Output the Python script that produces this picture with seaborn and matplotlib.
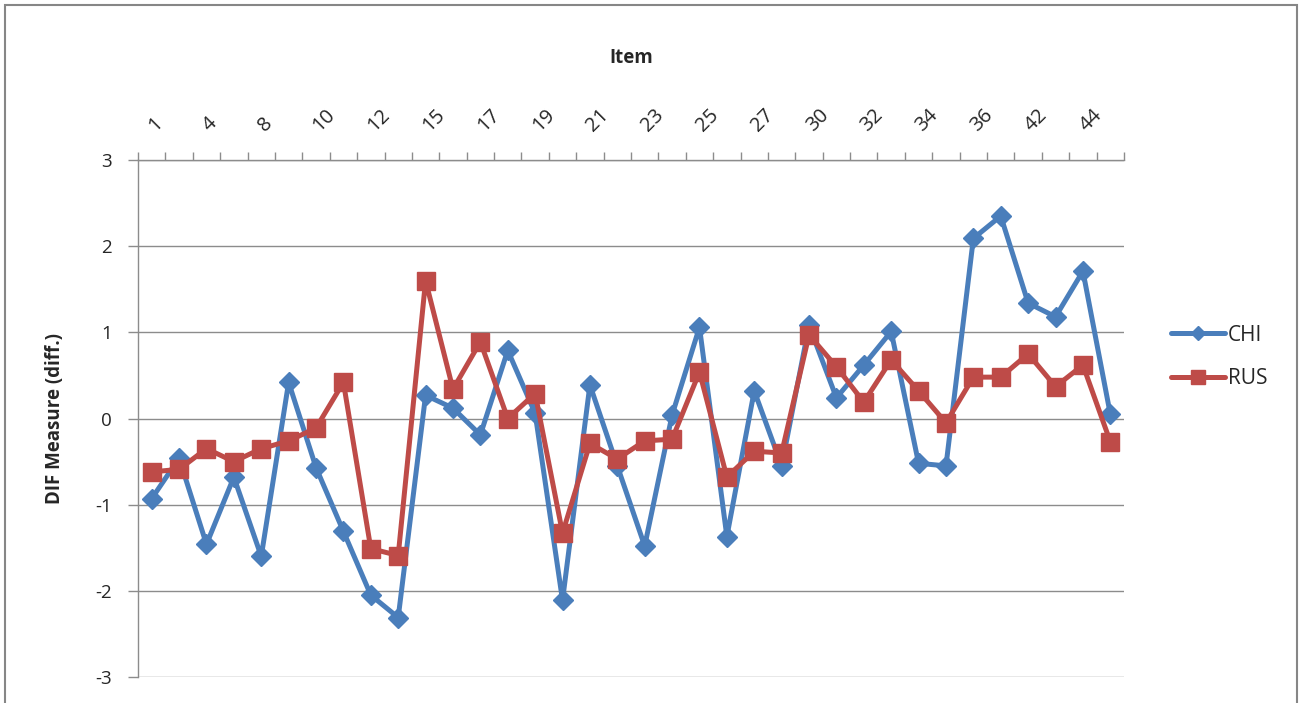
import matplotlib
matplotlib.use("Agg")
import matplotlib.pyplot as plt
import seaborn as sns
import pandas as pd
import numpy as np
from matplotlib.patches import Rectangle
from matplotlib.ticker import FixedLocator, NullFormatter

# ---- data ----
items = ["1", "2", "4", "5", "8", "9", "10", "11", "12", "13", "15", "16",
         "17", "18", "19", "20", "21", "22", "23", "24", "25", "26", "27", "28",
         "30", "31", "32", "33", "34", "35", "36", "37", "42", "43", "44", "45"]
chi = [-0.93, -0.46, -1.46, -0.68, -1.60, 0.42, -0.57, -1.31, -2.05, -2.31,
       0.27, 0.12, -0.19, 0.79, 0.06, -2.11, 0.39, -0.55, -1.48, 0.04,
       1.06, -1.37, 0.32, -0.55, 1.08, 0.24, 0.62, 1.01, -0.52, -0.55,
       2.09, 2.35, 1.34, 1.18, 1.71, 0.05]
rus = [-0.62, -0.59, -0.35, -0.50, -0.35, -0.26, -0.11, 0.42, -1.51, -1.59,
       1.60, 0.34, 0.89, 0.00, 0.29, -1.33, -0.29, -0.47, -0.26, -0.24,
       0.54, -0.68, -0.38, -0.40, 0.97, 0.60, 0.19, 0.68, 0.32, -0.05,
       0.48, 0.48, 0.75, 0.37, 0.62, -0.27]
series_names = ["CHI", "RUS"]
y_ticks = [-3, -2, -1, 0, 1, 2, 3]

pos = np.arange(len(items))
df_chi = pd.DataFrame({"pos": pos, "value": chi})
df_rus = pd.DataFrame({"pos": pos, "value": rus})

sns.set_style("white")
plt.rcParams["font.family"] = ["Open Sans", "DejaVu Sans"]

W, H = 1306, 703
fig = plt.figure(figsize=(W / 100, H / 100), dpi=100)
L, R, T, B = 138, 1124, 160, 677
ax = fig.add_axes([L / W, 1 - B / H, (R - L) / W, (B - T) / H])

blue = "#4A7EBB"
red = "#BE4B48"

sns.lineplot(data=df_chi, x="pos", y="value", ax=ax, color=blue, marker="D",
             markersize=10.5, markeredgewidth=1, markeredgecolor=blue,
             linewidth=3.6, sort=False, label=series_names[0])
sns.lineplot(data=df_rus, x="pos", y="value", ax=ax, color=red, marker="s",
             markersize=13.5, markeredgewidth=1, markeredgecolor=red,
             linewidth=3.6, sort=False, label=series_names[1])

grid_c = "#8c8c8c"
ax.set_ylim(-3, 3)
ax.set_xlim(-0.5, len(items) - 0.5)
ax.set_yticks(y_ticks)
ax.set_yticklabels([str(v) for v in y_ticks])
ax.yaxis.grid(True, color=grid_c, lw=1.0)
ax.xaxis.grid(False)

# x axis on top: major ticks at category boundaries, labels at every other category
ax.xaxis.tick_top()
ax.xaxis.set_major_locator(FixedLocator(np.arange(-0.5, len(items), 1.0)))
ax.xaxis.set_major_formatter(NullFormatter())
ax.xaxis.set_minor_locator(FixedLocator(pos[::2]))
ax.set_xticklabels(items[::2], minor=True)
ax.tick_params(axis="x", which="major", direction="out", length=6, width=1,
               color=grid_c, top=True, bottom=False)
ax.tick_params(axis="x", which="minor", length=0, pad=23, labelsize=14.5,
               top=True, bottom=False, labeltop=True, labelbottom=False)
for lab in ax.get_xticklabels(minor=True):
    lab.set_rotation(45)
    lab.set_rotation_mode("anchor")
    lab.set_ha("left")
    lab.set_va("center")

ax.tick_params(axis="y", which="major", direction="out", length=7, width=1,
               color=grid_c, pad=12, labelsize=13.5, left=True)

for s in ["right", "bottom"]:
    ax.spines[s].set_visible(False)
for s in ["left", "top"]:
    ax.spines[s].set_color(grid_c)
    ax.spines[s].set_linewidth(1.0)

ax.set_xlabel("Item", fontsize=13.5, fontweight="bold")
ax.xaxis.set_label_position("top")
ax.xaxis.set_label_coords(0.5, (B - 58) / (B - T))
ax.xaxis.label.set_va("center")
ax.set_ylabel("DIF Measure (diff.)", fontsize=13.5, fontweight="bold")
ax.yaxis.set_label_coords((55 - L) / (R - L), 0.5)
ax.yaxis.label.set_va("center")

leg = ax.legend(loc="center left", bbox_to_anchor=(1152 / W, 1 - 357 / H),
                bbox_transform=fig.transFigure, frameon=False, fontsize=15,
                handlelength=2.6, handletextpad=0.15, labelspacing=1.1,
                markerscale=0.7)

fig.patches.append(Rectangle((5 / W, -0.05), (1297 - 5) / W, 1 - 5 / H + 0.05,
                             transform=fig.transFigure, fill=False,
                             edgecolor="#868686", lw=1.5))

fig.savefig("out.png", dpi=100)
